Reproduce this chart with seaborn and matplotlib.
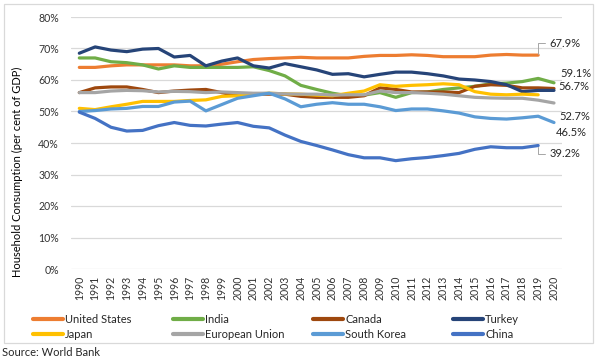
import matplotlib
matplotlib.use("Agg")
import matplotlib.pyplot as plt
import seaborn as sns
import pandas as pd
import numpy as np
from matplotlib.patches import Rectangle

years = list(range(1990, 2021))

united_states = [64.0, 64.0, 64.5, 64.8, 64.8, 64.8, 64.8, 64.5, 64.5, 65.0, 65.8, 66.5, 66.8, 67.0, 67.2, 67.0,
                 67.0, 67.0, 67.5, 67.8, 67.8, 68.0, 67.8, 67.4, 67.4, 67.4, 67.9, 68.1, 67.9, 67.9]
india = [67.0, 67.0, 65.8, 65.5, 64.8, 63.5, 64.5, 64.0, 64.0, 64.0, 64.0, 64.2, 63.0, 61.3, 58.3, 57.0,
         55.8, 55.0, 55.2, 56.0, 54.5, 56.0, 56.2, 57.0, 57.5, 58.0, 58.8, 59.0, 59.5, 60.5, 59.1]
canada = [56.0, 57.5, 57.8, 57.8, 57.0, 56.0, 56.5, 56.8, 57.0, 56.0, 55.0, 55.5, 55.5, 55.5, 54.8, 54.5,
          54.5, 54.5, 55.0, 57.5, 57.0, 56.2, 56.2, 56.2, 56.0, 58.0, 58.5, 58.3, 57.5, 57.5, 57.3]
turkey = [68.5, 70.5, 69.5, 69.0, 69.8, 70.0, 67.3, 67.8, 64.5, 66.0, 67.0, 64.5, 63.8, 65.2, 64.2, 63.2,
          61.8, 62.0, 61.0, 61.8, 62.5, 62.5, 62.0, 61.3, 60.3, 60.0, 59.5, 58.5, 56.3, 56.7, 56.7]
japan = [51.0, 50.6, 51.5, 52.3, 53.2, 53.2, 53.2, 53.5, 53.7, 54.8, 55.0, 55.5, 55.8, 55.6, 55.5, 55.2,
         55.0, 55.8, 56.5, 58.5, 58.0, 58.3, 58.5, 58.8, 58.5, 56.3, 55.5, 55.3, 55.5, 55.3]
european_union = [56.0, 56.0, 56.5, 56.7, 56.6, 56.2, 56.4, 56.3, 56.0, 56.2, 56.0, 55.8, 55.8, 55.6, 55.5, 55.5,
                  55.2, 55.3, 55.3, 56.5, 56.0, 56.0, 55.8, 55.5, 55.0, 54.5, 54.3, 54.2, 54.2, 53.6, 52.7]
south_korea = [50.0, 50.3, 50.8, 51.0, 51.6, 51.6, 53.0, 53.3, 50.2, 52.2, 54.2, 55.0, 55.8, 54.0, 51.5, 52.3,
               52.8, 52.3, 52.3, 51.5, 50.3, 50.8, 50.8, 50.2, 49.5, 48.3, 47.8, 47.6, 48.0, 48.5, 46.5]
china = [49.8, 47.8, 45.0, 43.8, 44.0, 45.5, 46.5, 45.6, 45.4, 46.0, 46.5, 45.3, 44.8, 42.5, 40.5, 39.2,
         37.8, 36.3, 35.3, 35.3, 34.4, 35.0, 35.4, 36.0, 36.7, 38.0, 38.8, 38.5, 38.5, 39.2]

series = {
    "United States": united_states,
    "India": india,
    "Canada": canada,
    "Turkey": turkey,
    "Japan": japan,
    "European Union": european_union,
    "South Korea": south_korea,
    "China": china,
}
colors = {
    "United States": "#ED7D31",
    "India": "#70AD47",
    "Canada": "#9E480E",
    "Turkey": "#264478",
    "Japan": "#FFC000",
    "European Union": "#A5A5A5",
    "South Korea": "#5B9BD5",
    "China": "#4472C4",
}
end_labels = {  # series: (text offset in points)
    "United States": (8, 8.5),
    "China": (8, -6),
    "India": (4.5, 6.5),
    "Turkey": (3, 2.5),
    "European Union": (3.5, -10),
    "South Korea": (1.5, -7),
}

rows = []
for name, vals in series.items():
    for i, v in enumerate(vals):
        rows.append({"series": name, "idx": i, "value": v})
df = pd.DataFrame(rows)

sns.set_style("white")
plt.rcParams["font.family"] = ["Lato", "DejaVu Sans"]

W, H = 596, 362
fig = plt.figure(figsize=(W / 100, H / 100), dpi=100)
ax = fig.add_axes([71.4 / W, 1 - 269 / H, (561.9 - 71.4) / W, (269 - 17) / H])

order = list(series.keys())
sns.lineplot(data=df, x="idx", y="value", hue="series", hue_order=order,
             palette=colors, linewidth=2.3, ax=ax, legend=True, sort=False)
ax.get_legend().remove()

ax.set_xlim(-0.5, len(years) - 0.5)
ax.set_ylim(0, 80)
ax.set_yticks(np.arange(0, 81, 10))
ax.set_yticklabels([f"{int(t)}%" for t in np.arange(0, 81, 10)])
ax.set_xticks(range(len(years)))
ax.set_xticklabels([str(y) for y in years], rotation=90)
ax.tick_params(axis="both", length=0, labelsize=7.6, colors="#333333")
ax.tick_params(axis="x", pad=5)
ax.tick_params(axis="y", pad=9)
ax.grid(axis="y", color="#D9D9D9", linewidth=0.9)
ax.set_axisbelow(True)
for s in ax.spines.values():
    s.set_visible(False)
ax.set_xlabel("")
ax.set_ylabel("Household Consumption (per cent of GDP)", fontsize=8, color="#000000")
ax.yaxis.set_label_coords(-(71.4 - 23) / (561.9 - 71.4), (269 - 172) / (269 - 17))

# end-of-series data labels
for name, off in end_labels.items():
    vals = series[name]
    xi = len(vals) - 1
    v = vals[-1]
    props = None
    if name in ("United States", "China"):
        props = dict(arrowstyle="-", color="#A6A6A6", lw=0.7, shrinkA=1, shrinkB=1,
                     connectionstyle="angle,angleA=0,angleB=90,rad=0")
    ax.annotate(f"{v:.1f}%", xy=(xi, v), xytext=off, textcoords="offset points",
                ha="left", va="center", fontsize=8, color="#262626",
                arrowprops=props, annotation_clip=False)

# legend: four columns of two entries
legend_cols = [["United States", "Japan"], ["India", "European Union"],
               ["Canada", "South Korea"], ["Turkey", "China"]]
col_x = [33, 173, 313, 453]
for cx, names in zip(col_x, legend_cols):
    hs = [plt.Line2D([], [], color=colors[n], linewidth=3.0) for n in names]
    fig.legend(hs, names, loc="upper left", bbox_to_anchor=(cx / W, 1 - 314 / H),
               frameon=False, fontsize=8, handlelength=2.7, handletextpad=0.2,
               labelspacing=0.35, borderaxespad=0, borderpad=0)

# chart frame
fig.patches.append(Rectangle((4 / W, 1 - 343 / H), (593 - 4) / W, (343 - 4) / H,
                             transform=fig.transFigure, fill=False,
                             edgecolor="#D9D9D9", linewidth=0.9))
fig.text(2 / W, 1 - 352 / H, "Source: World Bank", fontsize=8, va="center", ha="left")

fig.savefig("out.png", dpi=100)
